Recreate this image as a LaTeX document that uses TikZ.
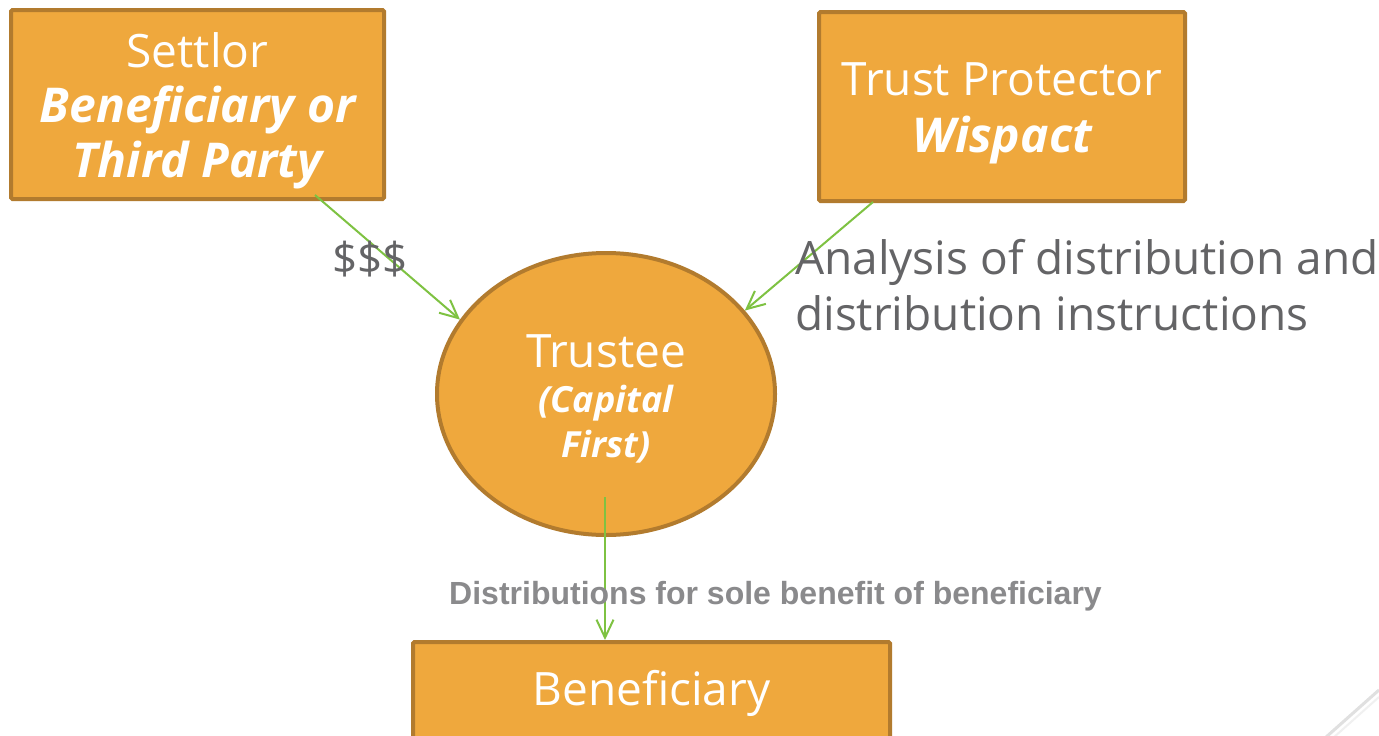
\documentclass[tikz,border=0pt]{standalone}
\usepackage{fontspec}
\setmainfont{Open Sans}
\newfontfamily\labelfont{Liberation Sans}
\usetikzlibrary{shapes.geometric,arrows.meta}
\definecolor{boxfill}{RGB}{239,168,61}
\definecolor{boxedge}{RGB}{178,123,46}
\definecolor{flowgreen}{RGB}{126,194,66}
\definecolor{notegray}{RGB}{100,100,102}
\definecolor{labelgray}{RGB}{138,138,140}
\newcommand{\emphline}[1]{{\fontsize{48}{48}\selectfont\bfseries\itshape #1}}
\tikzset{
  partybox/.style={draw=boxedge, fill=boxfill, line width=4pt, rounded corners=1.5pt,
    inner sep=0pt},
  boxtext/.style={inner sep=0pt, text=white, align=center},
  trusteeshape/.style={ellipse, draw=boxedge, fill=boxfill, line width=4pt,
    inner sep=0pt, minimum width=338pt, minimum height=282pt},
  flow/.style={draw=flowgreen, line width=2pt, -{Straight Barb[length=18pt,width=17pt,line width=2pt]}},
  note/.style={text=notegray, inner sep=0pt},
}
\begin{document}
\begin{tikzpicture}[x=1pt,y=-1pt]
\useasboundingbox (0,0) rectangle (1379,736);
\fill[white] (0,0) rectangle (1379,736);

% parties
\node[partybox, minimum width=373pt, minimum height=189pt] (settlor) at (197.5,104.5) {};
\node[boxtext, yshift=-6pt, font=\fontsize{46}{55}\selectfont] (settlor-text) at (settlor)
  {Settlor\\ \emphline{Beneficiary or}\\ \emphline{Third Party}};
\node[partybox, minimum width=366pt, minimum height=189pt] (protector) at (1002,106.5) {};
\node[boxtext, yshift=-7pt, font=\fontsize{46}{57}\selectfont] (protector-text) at (protector)
  {Trust Protector\\ \emphline{Wispact}};
\node[trusteeshape] (trustee) at (606,394) {};
\node[boxtext, yshift=-5pt, font=\fontsize{36}{45}\selectfont\bfseries\itshape] (trustee-text) at (trustee)
  {{\normalfont\fontsize{46}{46}\selectfont Trustee}\\ (Capital\\ First)};
\node[partybox, minimum width=477pt, minimum height=110pt] (benef) at (651.5,697) {};
\node[boxtext, yshift=-3pt, font=\fontsize{46}{50}\selectfont] (benef-text) at (benef.center |- 0,690)
  {Beneficiary};

% connectors
\coordinate (s1) at (315,195);
\coordinate (p1) at (873,202);
\coordinate (t1) at (605,497);
\draw[flow] (s1) -- (trustee.153);
\draw[flow] (p1) -- (trustee.31);
\draw[flow] (t1) -- (t1 |- benef.north);

% labels
\node[note, font=\fontsize{44}{44}\selectfont] (money) at (370,259) {\$\$\$};
\node[note, anchor=base west, align=left, font=\fontsize{46}{56}\selectfont] (analysis) at (795,330)
  {Analysis of distribution and\\distribution instructions};
\node[inner sep=0pt, text=labelgray, font=\labelfont\bfseries\fontsize{32}{32}\selectfont] (distlabel) at (775.5,596)
  {Distributions for sole benefit of beneficiary};

% page curl at the corner
\draw[black!12, line width=3pt] (1379,690) -- (1325,738);
\draw[black!6, line width=2pt] (1379,697) -- (1333,738);
\end{tikzpicture}
\end{document}
